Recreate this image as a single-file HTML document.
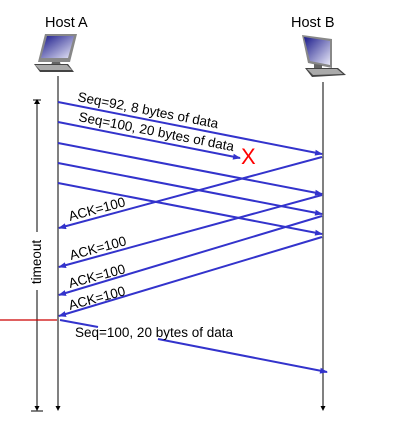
<!DOCTYPE html>
<html><head><style>
body{margin:0;background:#fff;}
svg{display:block;font-family:"Liberation Sans",Arial,sans-serif;}
</style></head><body>
<svg width="400" height="423" viewBox="0 0 400 423">
<defs>
<marker id="b" markerWidth="8" markerHeight="6" refX="7" refY="3" orient="auto" markerUnits="userSpaceOnUse"><path d="M0,0 L8,3 L0,6 Z" fill="#3333cc"/></marker>
<linearGradient id="scr" x1="0" y1="0" x2="1" y2="1"><stop offset="0" stop-color="#1a1a8a"/><stop offset="1" stop-color="#e8e8f8"/></linearGradient>
</defs>
<text x="45" y="27" font-size="14.5">Host A</text>
<text x="291" y="27" font-size="14.5">Host B</text>
<g transform="translate(30,34)">
<path d="M15,0 L47,0 L40,28 L8,28 Z" fill="#888"/>
<path d="M17,2 L44,2 L38,24 L11,24 Z" fill="url(#scr)"/>
<path d="M22,28 L30,28 L31,32 L21,32 Z" fill="#666"/>
<path d="M4,30 L38,30 L44,38 L10,38 Z" fill="#444"/>
<path d="M5,31 L37,31 L42,36 L10,36 Z" fill="#aaa"/>
</g>
<g transform="translate(302,35)">
<path d="M0,0 L30,4 L30,33 L6,28 Z" fill="#888"/>
<path d="M2,2 L28,6 L28,30 L8,26 Z" fill="url(#scr)"/>
<path d="M12,29 L20,30 L20,35 L12,34 Z" fill="#666"/>
<path d="M3,33 L36,33 L44,40 L10,42 Z" fill="#444"/>
<path d="M5,34 L35,34 L41,39 L11,40 Z" fill="#aaa"/>
</g>
<line x1="58" y1="76" x2="58" y2="408" stroke="#000" stroke-width="1"/>
<path d="M55.5,406 L60.5,406 L58,411 Z" fill="#000"/>
<line x1="323" y1="82" x2="323" y2="408" stroke="#000" stroke-width="1"/>
<path d="M320.5,406 L325.5,406 L323,411 Z" fill="#000"/>
<line x1="37" y1="101" x2="37" y2="232" stroke="#000"/>
<line x1="37" y1="290" x2="37" y2="408" stroke="#000"/>
<path d="M34.5,406 L39.5,406 L37,411 Z" fill="#000"/>
<path d="M34,104 L37,99 L40,104 Z" fill="#000"/>
<line x1="33" y1="100" x2="41" y2="100" stroke="#000"/>
<line x1="31" y1="411" x2="43" y2="411" stroke="#000"/>
<text transform="translate(41,262) rotate(-90)" font-size="13.5" text-anchor="middle">timeout</text>
<g stroke="#3333cc" stroke-width="2" fill="none">
<line x1="58" y1="102" x2="322" y2="154" marker-end="url(#b)"/>
<line x1="58" y1="122" x2="240" y2="158" marker-end="url(#b)"/>
<line x1="58" y1="143" x2="322" y2="194" marker-end="url(#b)"/>
<line x1="58" y1="163" x2="322" y2="214" marker-end="url(#b)"/>
<line x1="58" y1="183" x2="322" y2="234" marker-end="url(#b)"/>
<line x1="322" y1="157" x2="59" y2="228" marker-end="url(#b)"/>
<line x1="322" y1="195" x2="59" y2="267" marker-end="url(#b)"/>
<line x1="322" y1="216" x2="59" y2="295" marker-end="url(#b)"/>
<line x1="322" y1="237" x2="59" y2="316" marker-end="url(#b)"/>
<line x1="60" y1="320" x2="98" y2="327"/>
<line x1="158" y1="339" x2="327" y2="372" marker-end="url(#b)"/>
</g>
<line x1="0" y1="320" x2="57" y2="320" stroke="#cc0000" stroke-width="1.2"/>
<text x="241" y="164" font-size="22" fill="#ff0000">X</text>
<g font-size="13.5" fill="#000">
<text transform="translate(77,101) rotate(11)">Seq=92, 8 bytes of data</text>
<text transform="translate(78,121) rotate(11)">Seq=100, 20 bytes of data</text>
<text transform="translate(70,221) rotate(-15)">ACK=100</text>
<text transform="translate(71,260) rotate(-15)">ACK=100</text>
<text transform="translate(70,288) rotate(-15)">ACK=100</text>
<text transform="translate(70,310) rotate(-15)">ACK=100</text>
<text x="75" y="337">Seq=100, 20 bytes of data</text>
</g>
</svg>
</body></html>
